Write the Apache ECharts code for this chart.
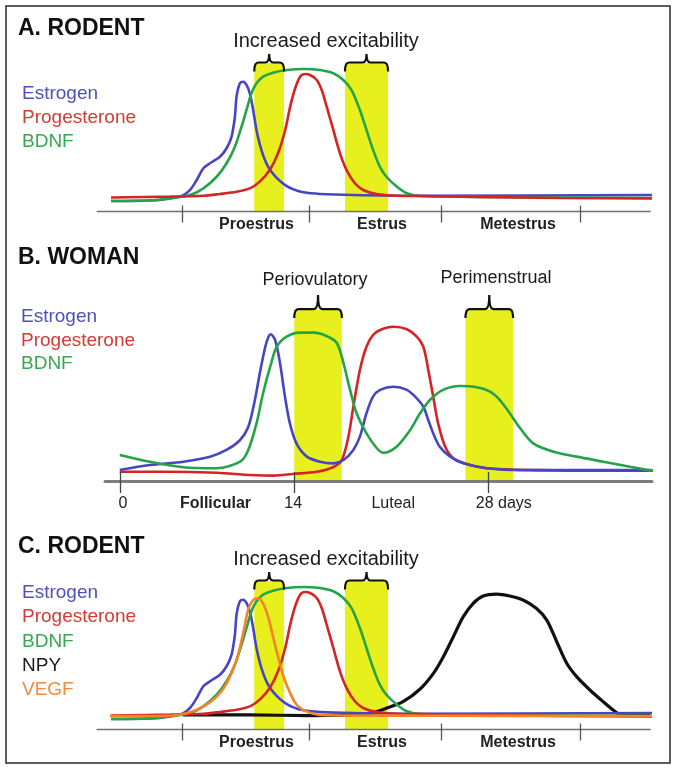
<!DOCTYPE html>
<html>
<head>
<meta charset="utf-8">
<script src="https://cdn.jsdelivr.net/npm/echarts@6/dist/echarts.min.js"></script>
<style>
html,body{margin:0;padding:0;background:#fff;}
#chart{width:677px;height:770px;}
</style>
</head>
<body>
<div id="chart"></div>
<script>
// ---------- DATA (x = position along the cycle axis, 0-100; y = relative level, 0-100) ----------
const rodentEstrogen = [[2.0,7.1],[9.0,7.4],[12.7,8.8],[15.0,10.8],[16.3,14.5],[17.5,21.2],[18.7,29.1],[19.9,32.5],[21.7,36.9],[22.9,42.6],[23.8,50.4],[24.4,63.8],[24.7,77.3],[25.3,86.3],[25.9,87.4],[26.5,85.2],[27.1,79.6],[27.7,68.4],[28.3,54.9],[29.2,41.4],[30.4,30.2],[32.0,22.4],[33.5,17.8],[35.0,14.9],[36.8,12.9],[39.8,11.8],[45.8,11.1],[57.9,10.6],[100.3,11.1]];
const rodentProgesterone = [[2.0,9.4],[12.7,10.0],[18.7,10.6],[21.7,11.8],[24.7,13.3],[27.1,15.6],[28.9,20.1],[30.7,27.9],[32.2,39.2],[33.5,54.9],[34.4,70.6],[35.3,83.0],[36.2,90.8],[37.1,92.6],[38.0,91.9],[39.2,88.6],[40.1,81.8],[41.0,70.6],[42.2,54.9],[43.4,39.2],[44.6,27.9],[46.1,19.0],[47.6,14.5],[50.0,11.8],[53.7,10.6],[57.9,10.4],[83.2,9.1],[100.4,8.8]];
const rodentBDNF = [[2.0,7.1],[9.0,7.4],[12.7,8.9],[16.3,11.1],[18.7,15.6],[21.1,23.4],[22.9,32.5],[24.4,43.6],[25.6,57.1],[26.5,68.4],[27.4,79.6],[28.3,86.3],[29.5,90.8],[31.3,93.5],[33.8,95.3],[36.8,96.0],[39.8,95.3],[42.2,93.1],[44.0,88.6],[45.5,81.8],[47.0,68.4],[48.2,54.9],[49.4,41.4],[50.6,30.2],[51.8,23.4],[53.7,16.7],[55.5,12.3],[57.9,10.4],[72.3,9.8],[100.4,9.1]];
const rodentNPY = [[15.0,9.8],[27.1,9.8],[38.0,9.4],[48.8,10.9],[51.8,14.3],[54.8,18.7],[57.9,27.3],[60.3,37.8],[62.1,49.0],[63.9,62.5],[65.7,76.0],[67.5,85.0],[69.3,89.9],[71.7,91.2],[74.1,89.9],[76.5,87.2],[78.9,81.6],[80.8,73.7],[82.6,59.1],[84.4,44.6],[86.2,35.6],[88.6,26.6],[91.0,18.7],[92.8,13.1],[94.0,10.4],[99.5,9.8]];
const rodentVEGF = [[1.8,9.1],[12.7,9.3],[15.7,10.9],[18.7,15.4],[21.1,22.1],[22.9,31.1],[24.7,46.8],[25.9,64.8],[26.8,80.5],[27.7,87.2],[28.6,88.4],[29.5,85.0],[30.4,76.0],[31.3,62.5],[32.2,49.0],[33.2,35.6],[34.4,24.4],[35.6,16.5],[37.4,12.0],[39.8,9.8],[57.9,9.3],[100.0,9.1]];

const womanEstrogen = [[2.7,6.5],[8.2,9.5],[14.3,11.5],[19.2,14.5],[22.2,18.5],[24.7,24.4],[26.2,32.3],[27.4,48.2],[28.3,64.1],[29.3,79.9],[29.9,85.9],[30.3,87.3],[31.1,83.9],[32.0,70.1],[32.9,50.2],[33.8,34.3],[35.0,22.4],[36.9,14.5],[39.3,11.5],[41.7,10.5],[43.6,12.5],[45.4,18.5],[46.6,26.4],[47.8,40.3],[49.0,50.2],[50.3,54.2],[52.7,56.1],[55.2,54.2],[57.0,49.2],[58.2,44.2],[59.1,36.3],[60.0,28.4],[61.2,20.4],[63.1,14.5],[65.5,10.5],[69.8,7.6],[75.9,6.5],[85.0,6.5],[99.9,6.5]];
const womanProgesterone = [[2.7,5.5],[11.3,5.5],[20.4,4.9],[26.5,3.6],[30.8,3.2],[34.4,4.2],[38.7,5.5],[41.7,8.2],[43.3,12.5],[44.5,26.4],[45.4,44.2],[46.6,66.1],[47.8,79.9],[49.0,86.9],[50.3,89.9],[52.7,91.8],[55.2,90.3],[57.0,85.9],[58.2,79.9],[59.1,66.1],[60.0,50.2],[60.9,34.3],[62.2,20.4],[63.7,13.5],[66.1,10.1],[69.8,7.6],[78.9,6.5],[91.1,6.1],[100.2,6.1]];
const womanBDNF = [[2.7,15.5],[8.2,11.5],[14.3,8.2],[20.4,7.6],[24.7,11.5],[26.2,18.5],[27.7,34.3],[28.9,52.2],[30.2,68.0],[31.4,79.9],[33.2,85.9],[35.6,88.3],[38.1,88.3],[40.5,86.3],[42.4,82.0],[43.6,70.1],[44.8,54.2],[46.0,40.3],[47.8,28.4],[49.7,19.5],[50.9,16.8],[53.3,20.4],[55.8,30.4],[57.6,40.3],[59.4,48.2],[61.8,54.2],[64.9,56.5],[68.0,55.8],[70.4,53.2],[72.2,48.2],[74.0,40.3],[75.9,31.4],[78.3,22.4],[82.0,17.4],[86.2,14.5],[91.1,11.5],[96.0,8.5],[100.2,6.0]];

// axes: tick marks and labels
const rodentTicks = [14.9, 37.8, 61.8, 86.8];
const rodentPhases = ['Proestrus', 'Estrus', 'Metestrus'];
const rodentPhasePos = [28.3, 51.0, 75.6];
const womanTicks = [2.74, 34.55, 70.0];
const womanLabels = ['0', 'Follicular', '14', 'Luteal', '28 days'];
const womanLabelPos = [3.3, 20.2, 34.4, 52.7, 72.9];

// highlighted windows (start, end on the x axis)
const rodentBands = [[27.9, 33.3], [44.3, 52.1]];
const womanBands = [[34.6, 43.3], [65.9, 74.6]];

const panelTitles = ['A. RODENT', 'B. WOMAN', 'C. RODENT'];
const rodentBandTitle = 'Increased excitability';
const womanBandTitles = ['Periovulatory', 'Perimenstrual'];
const legendA = ['Estrogen', 'Progesterone', 'BDNF'];
const legendC = ['Estrogen', 'Progesterone', 'BDNF', 'NPY', 'VEGF'];

// ---------- STYLE ----------
const FONT = 'Liberation Sans, Arial, Helvetica, sans-serif';
const lineColor = {Estrogen:'#4646c4', Progesterone:'#d52424', BDNF:'#24a448', NPY:'#111111', VEGF:'#f5832a'};
const textColor = {Estrogen:'#5050bc', Progesterone:'#d53a34', BDNF:'#38a850', NPY:'#1a1a1a', VEGF:'#f38a3a'};
const YELLOW = '#e7ef1c';

const chart = echarts.init(document.getElementById('chart'), null, {renderer:'canvas'});

function findLabel(pos, labels, v){
  for (let i = 0; i < pos.length; i++) if (Math.abs(pos[i] - v) < 1e-6) return labels[i];
  return '';
}

const grids = [
  {left: 97.2, top: 63, width: 553, height: 148.5},
  {left: 105, top: 309.6, width: 547, height: 171.4},
  {left: 97.2, top: 581, width: 553, height: 148.5}
];

function rodentAxis(gi){
  return [{
    gridIndex: gi, type:'value', min:-0.5, max:99.5, position:'bottom', z:5,
    axisLine:{show:true, lineStyle:{color:'#707070', width:1.3}},
    splitLine:{show:false},
    axisTick:{show:true, customValues: rodentTicks, length:11, lineStyle:{color:'#555', width:1.3}},
    axisLabel:{show:true, customValues: rodentPhasePos, margin:5,
      formatter: v => findLabel(rodentPhasePos, rodentPhases, v),
      fontFamily:FONT, fontSize:16, fontWeight:'bold', color:'#222'}
  },{
    gridIndex: gi, type:'value', min:-0.5, max:99.5, position:'bottom', offset:0, z:5,
    axisLine:{show:false}, splitLine:{show:false},
    axisTick:{show:true, inside:true, customValues: rodentTicks, length:6, lineStyle:{color:'#555', width:1.3}},
    axisLabel:{show:false}
  }];
}
const xAxes = [].concat(rodentAxis(0), [{
    gridIndex: 1, type:'value', min:0, max:100, position:'bottom', z:5,
    axisLine:{show:true, lineStyle:{color:'#7d7d7d', width:3}},
    splitLine:{show:false},
    axisTick:{show:true, customValues: womanTicks, length:12, lineStyle:{color:'#444', width:1.3}},
    axisLabel:{show:true, customValues: womanLabelPos, margin:15,
      formatter: v => { const t = findLabel(womanLabelPos, womanLabels, v); return t === 'Follicular' ? '{b|' + t + '}' : t; },
      rich:{b:{fontFamily:FONT, fontSize:16, fontWeight:'bold', color:'#222'}},
      fontFamily:FONT, fontSize:16, color:'#222'}
  },{
    gridIndex: 1, type:'value', min:0, max:100, position:'bottom', offset:0, z:5,
    axisLine:{show:false}, splitLine:{show:false},
    axisTick:{show:true, inside:true, customValues: womanTicks, length:9, lineStyle:{color:'#444', width:1.3}},
    axisLabel:{show:false}
  }], rodentAxis(2));

const yAxes = [
  {gridIndex:0, type:'value', min:0, max:100, show:false},
  {gridIndex:1, type:'value', min:0, max:102, show:false},
  {gridIndex:2, type:'value', min:0, max:100, show:false}
];

// x axis index for each grid's main axis
const xIdx = [0, 2, 4];

function bandSeries(gi, bands, yTop){
  return {
    type:'custom', xAxisIndex:xIdx[gi], yAxisIndex:gi, z:1, silent:true, clip:false,
    data: bands.map(b => [b[0], b[1], yTop]),
    encode:{x:[0,1], y:2},
    renderItem:(params, api) => {
      const p0 = api.coord([api.value(0), api.value(2)]);
      const p1 = api.coord([api.value(1), 0]);
      return {type:'rect', shape:{x:p0[0], y:p0[1], width:p1[0]-p0[0], height:p1[1]-p0[1]}, style:{fill:YELLOW}};
    }
  };
}
function braceSeries(gi, bands, yTop, spike){
  return {
    type:'custom', xAxisIndex:xIdx[gi], yAxisIndex:gi, z:6, silent:true, clip:false,
    data: bands.map(b => [b[0], b[1], yTop]),
    encode:{x:[0,1], y:2},
    renderItem:(params, api) => {
      const p0 = api.coord([api.value(0), api.value(2)]);
      const p1 = api.coord([api.value(1), api.value(2)]);
      const x0 = p0[0], x1 = p1[0], y = p0[1] - 0.5, xm = (x0 + x1) / 2, d = 9, r = 4;
      const path = 'M' + x0 + ' ' + (y + d) + ' Q' + x0 + ' ' + y + ' ' + (x0 + r) + ' ' + y +
        ' L' + (xm - r) + ' ' + y + ' Q' + xm + ' ' + y + ' ' + xm + ' ' + (y - spike) +
        ' Q' + xm + ' ' + y + ' ' + (xm + r) + ' ' + y + ' L' + (x1 - r) + ' ' + y +
        ' Q' + x1 + ' ' + y + ' ' + x1 + ' ' + (y + d);
      return {type:'path', shape:{pathData:path}, style:{fill:null, stroke:'#111', lineWidth:2.2}};
    }
  };
}
function lineSeries(gi, name, data, width){
  return {
    type:'line', name:name, xAxisIndex:xIdx[gi], yAxisIndex:gi, data:data, z:3,
    smooth:0.3, showSymbol:false, symbol:'none', clip:false, silent:true,
    lineStyle:{color:lineColor[name], width:width || 2.6}
  };
}

const series = [
  bandSeries(0, rodentBands, 100), braceSeries(0, rodentBands, 100, 8.5),
  lineSeries(0, 'Estrogen', rodentEstrogen), lineSeries(0, 'BDNF', rodentBDNF), lineSeries(0, 'Progesterone', rodentProgesterone),

  bandSeries(1, womanBands, 102), braceSeries(1, womanBands, 102, 14),
  lineSeries(1, 'Progesterone', womanProgesterone), lineSeries(1, 'Estrogen', womanEstrogen), lineSeries(1, 'BDNF', womanBDNF),

  bandSeries(2, rodentBands, 100), braceSeries(2, rodentBands, 100, 8.5),
  lineSeries(2, 'NPY', rodentNPY, 3.2), lineSeries(2, 'Estrogen', rodentEstrogen), lineSeries(2, 'BDNF', rodentBDNF),
  lineSeries(2, 'Progesterone', rodentProgesterone), lineSeries(2, 'VEGF', rodentVEGF)
];

// ---------- TEXT ----------
function txt(text, x, y, size, color, weight, align){
  return {type:'text', z:10, silent:true, style:{text:text, x:x, y:y, fill:color,
    font:(weight || 'normal') + ' ' + size + 'px ' + FONT,
    textAlign:align || 'left', align:align || 'left', textVerticalAlign:'middle', verticalAlign:'middle'}};
}
const graphics = [
  {type:'rect', z:0, silent:true, shape:{x:6, y:6, width:664, height:757}, style:{fill:'#fff', stroke:'#2a2a2a', lineWidth:1.5}},
  txt(panelTitles[0], 18, 29, 23, '#111', 'bold'),
  txt(panelTitles[1], 18, 258, 23, '#111', 'bold'),
  txt(panelTitles[2], 18, 547, 23, '#111', 'bold'),
  txt(rodentBandTitle, 326, 41, 20, '#1a1a1a', 'normal', 'center'),
  txt(rodentBandTitle, 326, 559, 20, '#1a1a1a', 'normal', 'center'),
  txt(womanBandTitles[0], 315, 280, 18, '#1a1a1a', 'normal', 'center'),
  txt(womanBandTitles[1], 496, 278, 18, '#1a1a1a', 'normal', 'center')
];
legendA.forEach((n, i) => graphics.push(txt(n, 22, 94 + i * 24, 19, textColor[n])));
legendA.forEach((n, i) => graphics.push(txt(n, 21, 317 + i * 23.5, 19, textColor[n])));
legendC.forEach((n, i) => graphics.push(txt(n, 22, 593 + i * 24.2, 19, textColor[n])));

chart.setOption({
  animation:false,
  backgroundColor:'#ffffff',
  grid:grids,
  xAxis:xAxes,
  yAxis:yAxes,
  graphic:{elements:graphics},
  series:series
});
</script>
</body>
</html>
